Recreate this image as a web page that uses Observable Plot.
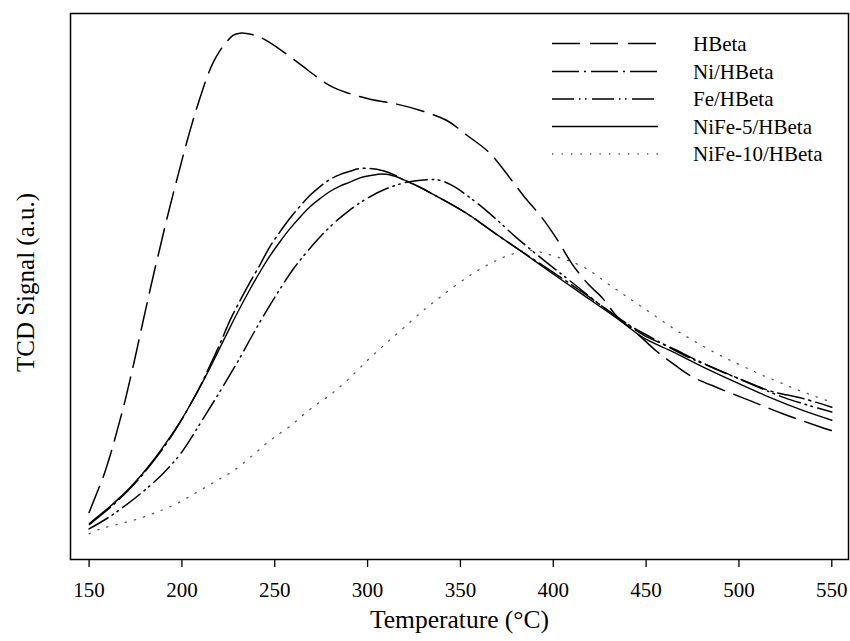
<!DOCTYPE html>
<html>
<head>
<meta charset="utf-8">
<script src="https://cdn.jsdelivr.net/npm/d3@7"></script>
<script src="https://cdn.jsdelivr.net/npm/@observablehq/plot@0.6"></script>
<style>
  html, body { margin: 0; padding: 0; background: #fff; }
  #chart { width: 850px; height: 641px; }
</style>
</head>
<body>
<div id="chart"></div>
<script>
// ---- data ----
const xTicks = [150, 200, 250, 300, 350, 400, 450, 500, 550];
const seriesNames = ["HBeta", "Ni/HBeta", "Fe/HBeta", "NiFe-5/HBeta", "NiFe-10/HBeta"];

const hbetaT = [150,154.1,157.7,161.3,164.0,166.7,169.4,172.1,174.8,177.5,180.1,182.8,185.5,188.2,190.9,193.6,196.3,199.0,201.7,204.4,207.1,209.8,213.5,216.8,220.5,224.3,227.5,231.3,235.6,240.4,245.8,251.2,258.2,265.2,272.2,279.7,288.9,301.3,315.8,329.8,342.7,353.5,365.9,377.7,384.7,393.9,402.5,410.0,418.6,426.2,434.8,441.3,448.3,455.8,462.8,473.6,488.1,505.9,523.6,541.9,550];
const hbetaS = [8.6,12.1,15.2,19.0,22.2,25.6,29.1,33.0,37.0,41.2,45.2,49.3,53.3,57.1,61.0,64.7,68.3,71.8,75.3,78.6,81.7,84.6,88.3,91.0,93.2,94.9,96.0,96.4,96.3,95.9,95.0,93.8,92.1,90.3,88.5,86.8,85.5,84.3,83.4,82.1,80.4,77.7,74.4,69.4,66.3,62.6,58.4,54.2,50.5,48.0,44.3,42.5,40.4,38.1,36.3,33.7,31.5,29.1,26.7,24.5,23.6];

const niT = [150.2,155.9,161.3,166.7,172.1,177.5,182.8,188.2,193.6,199.0,204.4,209.8,215.1,220.5,225.9,231.3,236.7,242.1,247.4,252.8,258.2,263.6,269.0,274.4,279.7,285.1,290.5,295.9,301.3,308.3,314.7,319.0,324.4,329.8,336.8,344.3,355.1,365.9,380.4,398.2,415.9,434.2,448.2,462.8,480.5,498.8,516.6,534.4,550];
const niS = [6.4,8.0,9.5,11.2,13.0,15.0,17.2,19.6,22.2,25.1,28.3,31.7,35.5,39.5,43.8,47.4,50.8,54.0,57.3,60.0,62.5,64.7,66.7,68.3,69.6,70.5,71.1,71.6,71.6,71.2,70.4,69.6,68.8,67.9,66.6,65.2,63.0,60.4,57.0,53.0,48.9,44.5,41.2,38.9,36.0,33.3,30.9,29.5,27.9];

const feT = [150,160,170,180,190,200,210,220,230,240,250,260,270,280,290,300,310,320,330,338,345,357,368,380,395,411,427,441,452,470,488,500,524,550];
const feS = [5.6,7.6,10.0,12.7,15.8,19.7,25.0,30.5,36.2,42.3,48.0,53.2,57.4,61.0,63.9,66.2,67.9,69.0,69.5,69.5,68.6,65.8,62.7,59.0,54.8,50.5,46.2,42.9,40.8,37.5,34.8,33.1,29.7,27.0];

const nife5T = [150.2,155.9,161.3,166.7,172.1,177.5,182.8,188.2,193.6,199.0,204.4,209.8,215.1,220.5,225.9,231.3,236.7,242.1,247.4,252.8,258.2,263.6,269.0,274.4,279.7,285.1,290.5,295.9,301.3,308.3,314.7,319.0,324.4,329.8,336.8,344.3,355.1,365.9,380.4,398.2,415.9,434.2,448.2,462.8,480.5,498.8,516.6,534.4,550];
const nife5S = [6.6,8.2,9.7,11.4,13.2,15.2,17.4,19.8,22.4,25.2,28.3,31.6,35.1,38.8,42.5,46.1,49.5,52.7,55.6,58.2,60.6,62.7,64.6,66.1,67.4,68.4,69.1,69.9,70.3,70.6,70.2,69.6,68.8,67.9,66.6,65.2,63.0,60.4,57.0,52.7,48.5,44.2,40.7,38.3,35.3,32.4,29.7,27.3,25.5];

const nife10T = [150,156,166,176,186,197,208,219,228,238.5,247.4,258.2,269,280,289,300,310,320,330,340,355,366,376,387,402,416,432,448,468,488,499,509,520,530,540,550];
const nife10S = [4.7,5.6,6.5,7.4,8.6,10.2,12.3,14.5,16.3,19.2,21.8,24.4,27.5,30.2,32.8,36.5,39.6,42.6,45.6,48.3,52.0,54.2,55.7,56.6,55.4,53.6,49.9,46.2,41.6,37.7,35.9,34.3,32.7,31.3,30.0,28.8];

// ---- styles ----
const FONT = "'Liberation Serif', 'Times New Roman', Times, serif";
const styles = {
  "HBeta":         {dash: "28,10",                 color: "#000", width: 1.5},
  "Ni/HBeta":      {dash: "27,5,2,5",              color: "#000", width: 1.5},
  "Fe/HBeta":      {dash: "22,5,1.5,4.5,1.5,5.5",  color: "#000", width: 1.5},
  "NiFe-5/HBeta":  {dash: null,                    color: "#000", width: 1.4},
  "NiFe-10/HBeta": {dash: "1.3,8.2",               color: "#555", width: 1.3}
};

const table = (name, T, S) => T.map((t, i) => ({series: name, T: t, S: S[i]}));
const data = {
  "HBeta": table("HBeta", hbetaT, hbetaS),
  "Ni/HBeta": table("Ni/HBeta", niT, niS),
  "Fe/HBeta": table("Fe/HBeta", feT, feS),
  "NiFe-5/HBeta": table("NiFe-5/HBeta", nife5T, nife5S),
  "NiFe-10/HBeta": table("NiFe-10/HBeta", nife10T, nife10S)
};

const drawOrder = ["NiFe-10/HBeta", "Fe/HBeta", "Ni/HBeta", "NiFe-5/HBeta", "HBeta"];
const lineMarks = drawOrder.map(name => Plot.line(data[name], {
  x: "T", y: "S",
  stroke: styles[name].color,
  strokeWidth: styles[name].width,
  strokeDasharray: styles[name].dash || undefined,
  curve: "catmull-rom"
}));

const chart = Plot.plot({
  width: 850,
  height: 641,
  marginLeft: 70,
  marginRight: 2,
  marginTop: 13,
  marginBottom: 82,
  style: {fontFamily: FONT, background: "#fff", color: "#000"},
  x: {domain: [140, 559]},
  y: {domain: [0, 100], axis: null},
  marks: [
    ...lineMarks,
    Plot.frame({stroke: "#000", strokeWidth: 1.5}),
    Plot.axisX({ticks: xTicks, tickSize: 8, tickPadding: 15, fontSize: 21, label: null, stroke: "#000", strokeWidth: 1.3}),
    Plot.text(["Temperature (°C)"], {frameAnchor: "bottom", lineAnchor: "middle", textAnchor: "middle", dy: 60, fontSize: 25.5, fill: "#000"}),
    Plot.text(["TCD Signal (a.u.)"], {frameAnchor: "left", lineAnchor: "middle", textAnchor: "middle", dx: -45, dy: -4, rotate: -90, fontSize: 25, fill: "#000"})
  ]
});

document.getElementById("chart").appendChild(chart);

// ---- legend (inside the plot svg) ----
const legend = d3.select(chart).append("g").attr("class", "legend").attr("text-anchor", "start");
const rowY = [43.5, 71.5, 99, 126.5, 154];
seriesNames.forEach((name, i) => {
  const s = styles[name];
  legend.append("line")
    .attr("x1", 552).attr("x2", 658)
    .attr("y1", rowY[i]).attr("y2", rowY[i])
    .attr("stroke", s.color)
    .attr("stroke-width", s.width)
    .attr("stroke-dasharray", s.dash);
  legend.append("text")
    .attr("x", 693).attr("y", rowY[i])
    .attr("dy", "0.35em")
    .attr("text-anchor", "start")
    .attr("font-family", FONT)
    .attr("font-size", 21)
    .attr("fill", "#000")
    .text(name);
});
</script>
</body>
</html>
